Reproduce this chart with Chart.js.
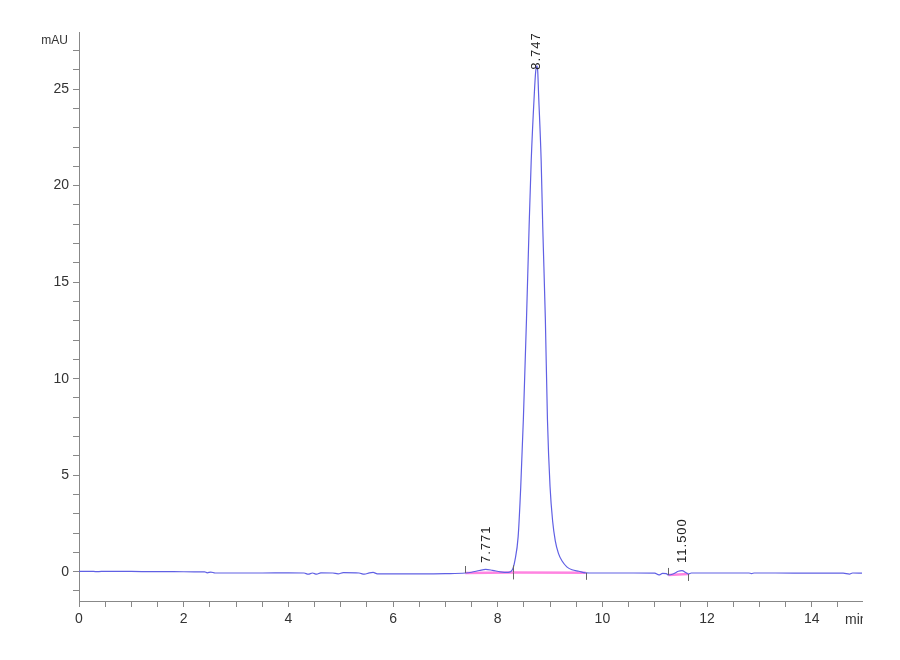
<!DOCTYPE html>
<html>
<head>
<meta charset="utf-8">
<script src="https://cdn.jsdelivr.net/npm/chart.js@4.4.1/dist/chart.umd.min.js"></script>
<style>
  html, body { margin: 0; padding: 0; background: #fff; }
  canvas { display: block; }
</style>
</head>
<body>
<canvas id="chromChart" width="900" height="660"></canvas>
<script>
// retention time (min) and detector signal (mAU)
const times = [
    0.00, 0.20, 0.35, 0.50, 0.70, 1.00, 1.40, 1.80, 2.20, 2.40,
    2.45, 2.52, 2.60, 3.00, 3.50, 4.00, 4.30, 4.38, 4.46, 4.54,
    4.62, 4.85, 4.95, 5.05, 5.35, 5.45, 5.55, 5.62, 5.70, 6.00,
    6.50, 7.00, 7.38, 7.50, 7.65, 7.77, 7.90, 8.05, 8.20, 8.28,
    8.33, 8.39, 8.44, 8.49, 8.55, 8.60, 8.64, 8.70, 8.725, 8.749,
    8.765, 8.78, 8.83, 8.86, 8.91, 8.95, 9.00, 9.05, 9.10, 9.16,
    9.23, 9.32, 9.42, 9.55, 9.68, 9.85, 10.20, 10.60, 11.00, 11.08,
    11.15, 11.22, 11.26, 11.35, 11.45, 11.52, 11.60, 11.64, 11.70, 12.20,
    12.80, 12.85, 12.90, 13.30, 14.00, 14.60, 14.72, 14.78, 14.96
];
const signal = [
    0.02, 0.02, 0.00, 0.02, 0.01, 0.01, 0.00, 0.00, -0.01, -0.01,
    -0.06, -0.02, -0.07, -0.07, -0.07, -0.06, -0.07, -0.13, -0.07, -0.13,
    -0.06, -0.07, -0.11, -0.05, -0.07, -0.13, -0.06, -0.04, -0.11, -0.11,
    -0.11, -0.10, -0.07, -0.03, 0.06, 0.12, 0.07, -0.01, -0.04, 0.10,
    0.60, 1.80, 4.40, 7.90, 13.1, 17.9, 21.3, 24.8, 25.9, 26.2,
    25.9, 24.8, 21.3, 17.9, 13.1, 7.90, 4.40, 2.60, 1.60, 0.95,
    0.55, 0.25, 0.10, 0.02, -0.06, -0.07, -0.07, -0.07, -0.08, -0.17,
    -0.09, -0.10, -0.17, -0.12, 0.02, 0.05, -0.06, -0.12, -0.07, -0.07,
    -0.07, -0.10, -0.07, -0.07, -0.08, -0.08, -0.13, -0.07, -0.08
];

// integration baselines: start / end time and level
const baseStart = [7.38, 8.30, 11.26];
const baseStartY = [-0.07, -0.04, -0.17];
const baseEnd = [8.30, 9.68, 11.64];
const baseEndY = [-0.04, -0.06, -0.12];

// peak annotations (label starts at the given signal level)
const peakTimes = [7.775, 8.747, 11.52];
const peakLabels = ['7.771', '8.747', '11.500'];
const peakLabelAt = [0.45, 26.0, 0.45];

// labelled ticks
const xLabels = [0, 2, 4, 6, 8, 10, 12, 14];
const yLabels = [0, 5, 10, 15, 20, 25];

const tickFont = { family: "'Liberation Sans', Arial, sans-serif", size: 14 };

function isLabelled(v, list) {
    const r = Math.round(v);
    return Math.abs(v - r) < 1e-6 && list.includes(r);
}

const annotations = {
    id: 'annotations',
    afterDatasetsDraw(chart) {
        const { ctx, chartArea, scales: { x, y } } = chart;
        ctx.save();

        // peak start / end marks
        ctx.strokeStyle = '#666';
        ctx.lineWidth = 1;
        baseStart.forEach(function(t, i) {
            const px = Math.round(x.getPixelForValue(t)) + 0.5;
            const py = y.getPixelForValue(baseStartY[i]);
            ctx.beginPath();
            ctx.moveTo(px, py);
            ctx.lineTo(px, py - 7);
            ctx.stroke();
        });
        baseEnd.forEach(function(t, i) {
            const px = Math.round(x.getPixelForValue(t)) + 0.5;
            const py = y.getPixelForValue(baseEndY[i]);
            ctx.beginPath();
            ctx.moveTo(px, py);
            ctx.lineTo(px, py + 7);
            ctx.stroke();
        });

        // retention time labels
        ctx.fillStyle = '#222';
        ctx.font = "13px 'Liberation Sans', Arial, sans-serif";
        ctx.letterSpacing = '1px';
        ctx.textAlign = 'left';
        ctx.textBaseline = 'middle';
        peakTimes.forEach(function(t, i) {
            ctx.save();
            ctx.translate(x.getPixelForValue(t), y.getPixelForValue(peakLabelAt[i]));
            ctx.rotate(-Math.PI / 2);
            ctx.fillText(peakLabels[i], 0, 0);
            ctx.restore();
        });

        // axis units
        ctx.letterSpacing = '0px';
        ctx.fillStyle = '#333';
        ctx.font = "12px 'Liberation Sans', Arial, sans-serif";
        ctx.textAlign = 'right';
        ctx.fillText('mAU', chartArea.left - 11, chartArea.top + 9);

        ctx.beginPath();
        ctx.rect(0, 0, chartArea.right + 1, chart.height);
        ctx.clip();
        ctx.font = "14px 'Liberation Sans', Arial, sans-serif";
        ctx.textAlign = 'left';
        ctx.fillText('min', chartArea.right - 17, chartArea.bottom + 19);
        ctx.restore();
    }
};

const baselineSets = baseStart.map(function(t, i) {
    return {
        data: [{ x: t, y: baseStartY[i] }, { x: baseEnd[i], y: baseEndY[i] }],
        borderColor: 'rgba(255, 110, 220, 0.85)',
        borderWidth: 2.5,
        pointRadius: 0
    };
});

new Chart(document.getElementById('chromChart'), {
    type: 'line',
    data: {
        datasets: [{
            label: 'Signal',
            data: times.map(function(t, i) { return { x: t, y: signal[i] }; }),
            borderColor: '#6060e4',
            borderWidth: 1.2,
            pointRadius: 0,
            cubicInterpolationMode: 'monotone',
            fill: false
        }].concat(baselineSets)
    },
    options: {
        responsive: false,
        animation: false,
        events: [],
        layout: { padding: { top: 32, right: 38, bottom: 0, left: 0 } },
        plugins: {
            legend: { display: false },
            tooltip: { enabled: false }
        },
        scales: {
            x: {
                type: 'linear',
                min: 0,
                max: 14.96,
                afterFit: function(scale) { scale.height = 59; },
                grid: { drawOnChartArea: false, tickLength: 6, color: '#888' },
                border: { color: '#888' },
                ticks: {
                    stepSize: 0.5,
                    includeBounds: false,
                    autoSkip: false,
                    maxRotation: 0,
                    padding: 4,
                    color: '#333',
                    font: tickFont,
                    callback: function(v) { return isLabelled(v, xLabels) ? Math.round(v) : ''; }
                }
            },
            y: {
                type: 'linear',
                min: -1.52,
                max: 27.96,
                afterFit: function(scale) { scale.width = 79; },
                grid: { drawOnChartArea: false, tickLength: 6, color: '#888' },
                border: { color: '#888' },
                ticks: {
                    stepSize: 1,
                    includeBounds: false,
                    autoSkip: false,
                    padding: 4,
                    color: '#333',
                    font: tickFont,
                    callback: function(v) { return isLabelled(v, yLabels) ? Math.round(v) : ''; }
                }
            }
        }
    },
    plugins: [annotations]
});
</script>
</body>
</html>
